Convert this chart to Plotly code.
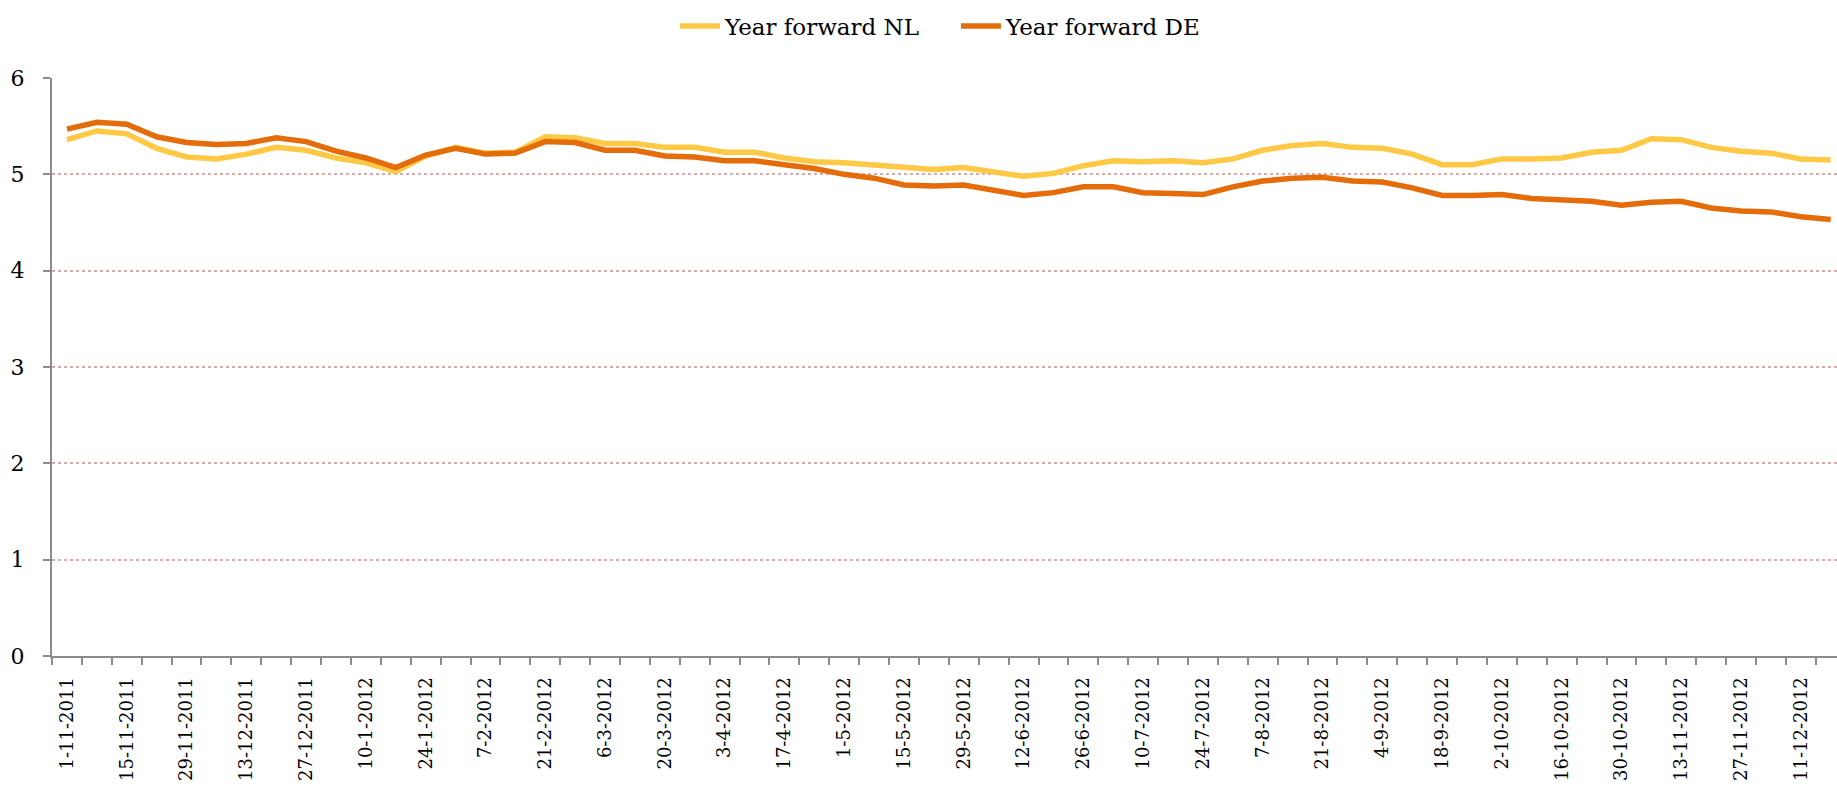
import plotly.graph_objects as go

dates = [
    "1-11-2011", "8-11-2011", "15-11-2011", "22-11-2011", "29-11-2011", "6-12-2011",
    "13-12-2011", "20-12-2011", "27-12-2011", "3-1-2012", "10-1-2012", "17-1-2012",
    "24-1-2012", "31-1-2012", "7-2-2012", "14-2-2012", "21-2-2012", "28-2-2012",
    "6-3-2012", "13-3-2012", "20-3-2012", "27-3-2012", "3-4-2012", "10-4-2012",
    "17-4-2012", "24-4-2012", "1-5-2012", "8-5-2012", "15-5-2012", "22-5-2012",
    "29-5-2012", "5-6-2012", "12-6-2012", "19-6-2012", "26-6-2012", "3-7-2012",
    "10-7-2012", "17-7-2012", "24-7-2012", "31-7-2012", "7-8-2012", "14-8-2012",
    "21-8-2012", "28-8-2012", "4-9-2012", "11-9-2012", "18-9-2012", "25-9-2012",
    "2-10-2012", "9-10-2012", "16-10-2012", "23-10-2012", "30-10-2012", "6-11-2012",
    "13-11-2012", "20-11-2012", "27-11-2012", "4-12-2012", "11-12-2012", "18-12-2012",
]

year_forward_nl = [
    5.36, 5.45, 5.42, 5.27, 5.18, 5.16, 5.21, 5.28, 5.25, 5.17, 5.12, 5.03,
    5.19, 5.28, 5.22, 5.23, 5.39, 5.38, 5.32, 5.32, 5.28, 5.28, 5.23, 5.23,
    5.17, 5.13, 5.12, 5.10, 5.07, 5.05, 5.07, 5.03, 4.98, 5.01, 5.09, 5.14,
    5.13, 5.14, 5.12, 5.16, 5.25, 5.30, 5.32, 5.28, 5.27, 5.21, 5.10, 5.10,
    5.16, 5.16, 5.17, 5.23, 5.25, 5.37, 5.36, 5.28, 5.24, 5.22, 5.16, 5.15,
]

year_forward_de = [
    5.47, 5.54, 5.52, 5.39, 5.33, 5.31, 5.32, 5.38, 5.34, 5.24, 5.17, 5.07,
    5.20, 5.27, 5.21, 5.22, 5.34, 5.33, 5.25, 5.25, 5.19, 5.18, 5.14, 5.14,
    5.10, 5.06, 5.00, 4.96, 4.89, 4.88, 4.89, 4.83, 4.78, 4.81, 4.87, 4.87,
    4.81, 4.80, 4.79, 4.87, 4.93, 4.96, 4.97, 4.93, 4.92, 4.86, 4.78, 4.78,
    4.79, 4.75, 4.73, 4.72, 4.68, 4.71, 4.72, 4.65, 4.62, 4.61, 4.56, 4.53,
]

y_ticks = [0, 1, 2, 3, 4, 5, 6]

x_idx = list(range(len(dates)))
label_idx = x_idx[::2]
label_text = dates[::2]

FONT = "Georgia, 'DejaVu Serif', serif"
AXIS_GREY = "#8c8c8c"

fig = go.Figure()
fig.add_trace(go.Scatter(
    x=x_idx, y=year_forward_nl, mode="lines", name="Year forward NL",
    line=dict(color="#FFC845", width=5.5), text=dates, hovertemplate="%{text}: %{y}<extra></extra>",
))
fig.add_trace(go.Scatter(
    x=x_idx, y=year_forward_de, mode="lines", name="Year forward DE",
    line=dict(color="#E46C0A", width=5.5), text=dates, hovertemplate="%{text}: %{y}<extra></extra>",
))

fig.update_layout(
    width=1837, height=793,
    margin=dict(l=52, r=0, t=78, b=137, autoexpand=False),
    paper_bgcolor="white", plot_bgcolor="white",
    font=dict(family=FONT, color="black", size=18),
    showlegend=True,
    legend=dict(
        orientation="h", x=0.349, xanchor="left", y=1.09, yanchor="middle",
        font=dict(size=23, family=FONT), itemwidth=40, traceorder="normal",
        entrywidth=226, entrywidthmode="pixels",
        bgcolor="rgba(0,0,0,0)",
    ),
)

fig.update_xaxes(
    range=[-0.5, 59.21], automargin=False,
    tickmode="array", tickvals=label_idx, ticktext=label_text,
    tickangle=-90, ticks="", tickfont=dict(size=18, family=FONT),
    showgrid=False, zeroline=False,
    showline=True, linecolor=AXIS_GREY, linewidth=2,
    ticklabelstandoff=12,
    minor=dict(tickmode="linear", tick0=-0.5, dtick=1, ticks="outside",
               ticklen=7, tickwidth=1.5, tickcolor=AXIS_GREY, showgrid=False),
)

fig.update_yaxes(
    range=[0, 6], tickmode="array", tickvals=y_ticks, automargin=False,
    ticks="outside", ticklen=7, tickwidth=1.5, tickcolor=AXIS_GREY,
    tickfont=dict(size=22, family=FONT),
    showgrid=True, gridcolor="rgb(212,172,172)", griddash="dot", gridwidth=1.5,
    zeroline=False, showline=True, linecolor=AXIS_GREY, linewidth=2,
    ticklabelstandoff=14,
)

fig.write_html(
    "out.html",
    config={"displayModeBar": False},
    post_script="document.body.style.margin='0';document.body.style.overflow='hidden';",
)
